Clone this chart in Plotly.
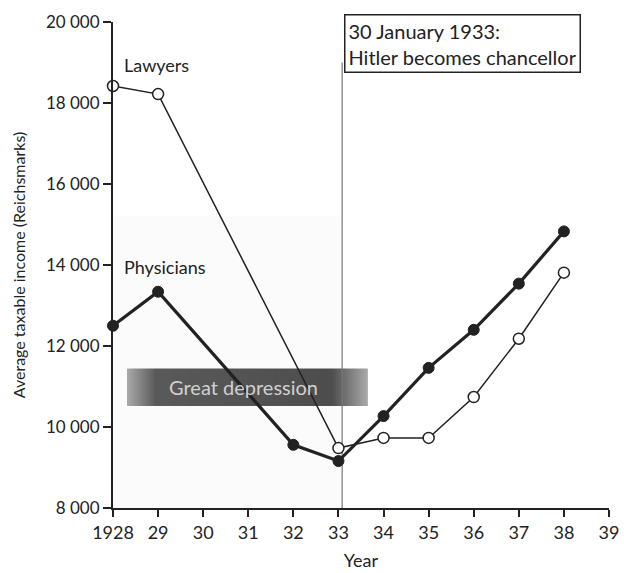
import plotly.graph_objects as go

# ---- data ----
phys_years = [1928, 1929, 1932, 1933, 1934, 1935, 1936, 1937, 1938]
phys_income = [12500, 13340, 9560, 9160, 10270, 11460, 12400, 13540, 14830]
law_years = [1928, 1929, 1933, 1934, 1935, 1936, 1937, 1938]
law_income = [18420, 18220, 9480, 9730, 9730, 10740, 12180, 13810]
x_tickvals = list(range(1928, 1940))
x_ticktext = ["1928"] + [str(y % 100) for y in range(1929, 1940)]
y_tickvals = [8000, 10000, 12000, 14000, 16000, 18000, 20000]
y_ticktext = ["8 000", "10 000", "12 000", "14 000", "16 000", "18 000", "20 000"]
hitler_date = 1933 + 30 / 365
depression_start, depression_end = 1928.31, 1933.65
depression_low, depression_high = 10520, 11440

FONT = "Lato"
INK = "#222222"

fig = go.Figure()

fig.add_trace(go.Scatter(
    x=law_years, y=law_income, mode="lines+markers", cliponaxis=False,
    line=dict(color=INK, width=1.5),
    marker=dict(size=11, color="white", line=dict(color=INK, width=1.5)),
    showlegend=False))
fig.add_trace(go.Scatter(
    x=phys_years, y=phys_income, mode="lines+markers", cliponaxis=False,
    line=dict(color=INK, width=3.2),
    marker=dict(size=11, color=INK, line=dict(color=INK, width=1)),
    showlegend=False))

shapes = []
# faint stippled background
shapes.append(dict(type="rect", xref="x", yref="y", x0=1928, x1=hitler_date,
                   y0=8000, y1=15200, fillcolor="rgba(0,0,0,0.015)",
                   line=dict(width=0), layer="below"))
# gradient band (drawn as many thin overlapping strips)
N = 120
w = (depression_end - depression_start) / N
for i in range(N):
    t = (i + 0.5) / N
    if t < 0.12:
        v = 170 - (170 - 90) * (t / 0.12)
    elif t < 0.85:
        v = 90 - 12 * ((t - 0.12) / 0.73)
    else:
        v = 78 + (170 - 78) * ((t - 0.85) / 0.15)
    v = int(v)
    shapes.append(dict(type="rect", xref="x", yref="y",
                       x0=depression_start + i * w, x1=depression_start + (i + 1.8) * w if i < N - 1 else depression_end,
                       y0=depression_low, y1=depression_high,
                       fillcolor=f"rgb({v},{v},{v})", line=dict(width=0), layer="below"))
# Hitler line
shapes.append(dict(type="line", xref="x", yref="y", x0=hitler_date, x1=hitler_date,
                   y0=8000, y1=19000, line=dict(color="#777", width=1.2), layer="below"))
fig.update_layout(shapes=shapes)

annotations = [
    dict(x=hitler_date + 0.04, y=1.0, xref="x", yref="paper", xanchor="left", yanchor="top",
         yshift=8,
         text="30 January 1933:<br>Hitler becomes chancellor", align="left", showarrow=False,
         font=dict(family=FONT, size=20, color=INK), bgcolor="white",
         bordercolor=INK, borderwidth=1.5, borderpad=3),
    dict(x=1928.2, y=18950, xref="x", yref="y", xanchor="left", yanchor="middle",
         text="Lawyers", showarrow=False, font=dict(family=FONT, size=18, color=INK)),
    dict(x=1928.2, y=13950, xref="x", yref="y", xanchor="left", yanchor="middle",
         text="Physicians", showarrow=False, font=dict(family=FONT, size=18, color=INK)),
    dict(x=1930.9, y=(depression_low + depression_high) / 2,
         xref="x", yref="y", text="Great depression", showarrow=False,
         font=dict(family=FONT, size=20, color="#d0d0d0")),
]
fig.update_layout(annotations=annotations)

fig.update_xaxes(range=[1928, 1939], tickvals=x_tickvals, ticktext=x_ticktext, automargin=False,
                 showgrid=False, zeroline=False, showline=True, linecolor=INK, linewidth=2,
                 ticks="outside", ticklen=7, tickwidth=2, tickcolor=INK,
                 tickfont=dict(family=FONT, size=18, color=INK),
                 title=dict(text="Year", font=dict(family=FONT, size=18, color=INK), standoff=13))
fig.update_yaxes(range=[8000, 20000], tickvals=y_tickvals, ticktext=y_ticktext, automargin=False,
                 showgrid=False, zeroline=False, showline=True, linecolor=INK, linewidth=2,
                 ticks="outside", ticklen=8, tickwidth=2, tickcolor=INK,
                 tickfont=dict(family=FONT, size=17, color=INK),
                 title=dict(text="Average taxable income (Reichsmarks)",
                            font=dict(family=FONT, size=16, color=INK), standoff=16))

fig.update_layout(width=624, height=573, plot_bgcolor="white", paper_bgcolor="white",
                  margin=dict(l=113, r=15, t=22, b=65), showlegend=False)

# remove the default 8px page margin so the figure fills the window exactly
fig.write_html("out.html", config={"displayModeBar": False},
               post_script="document.body.style.margin='0';document.body.style.overflow='hidden';")
